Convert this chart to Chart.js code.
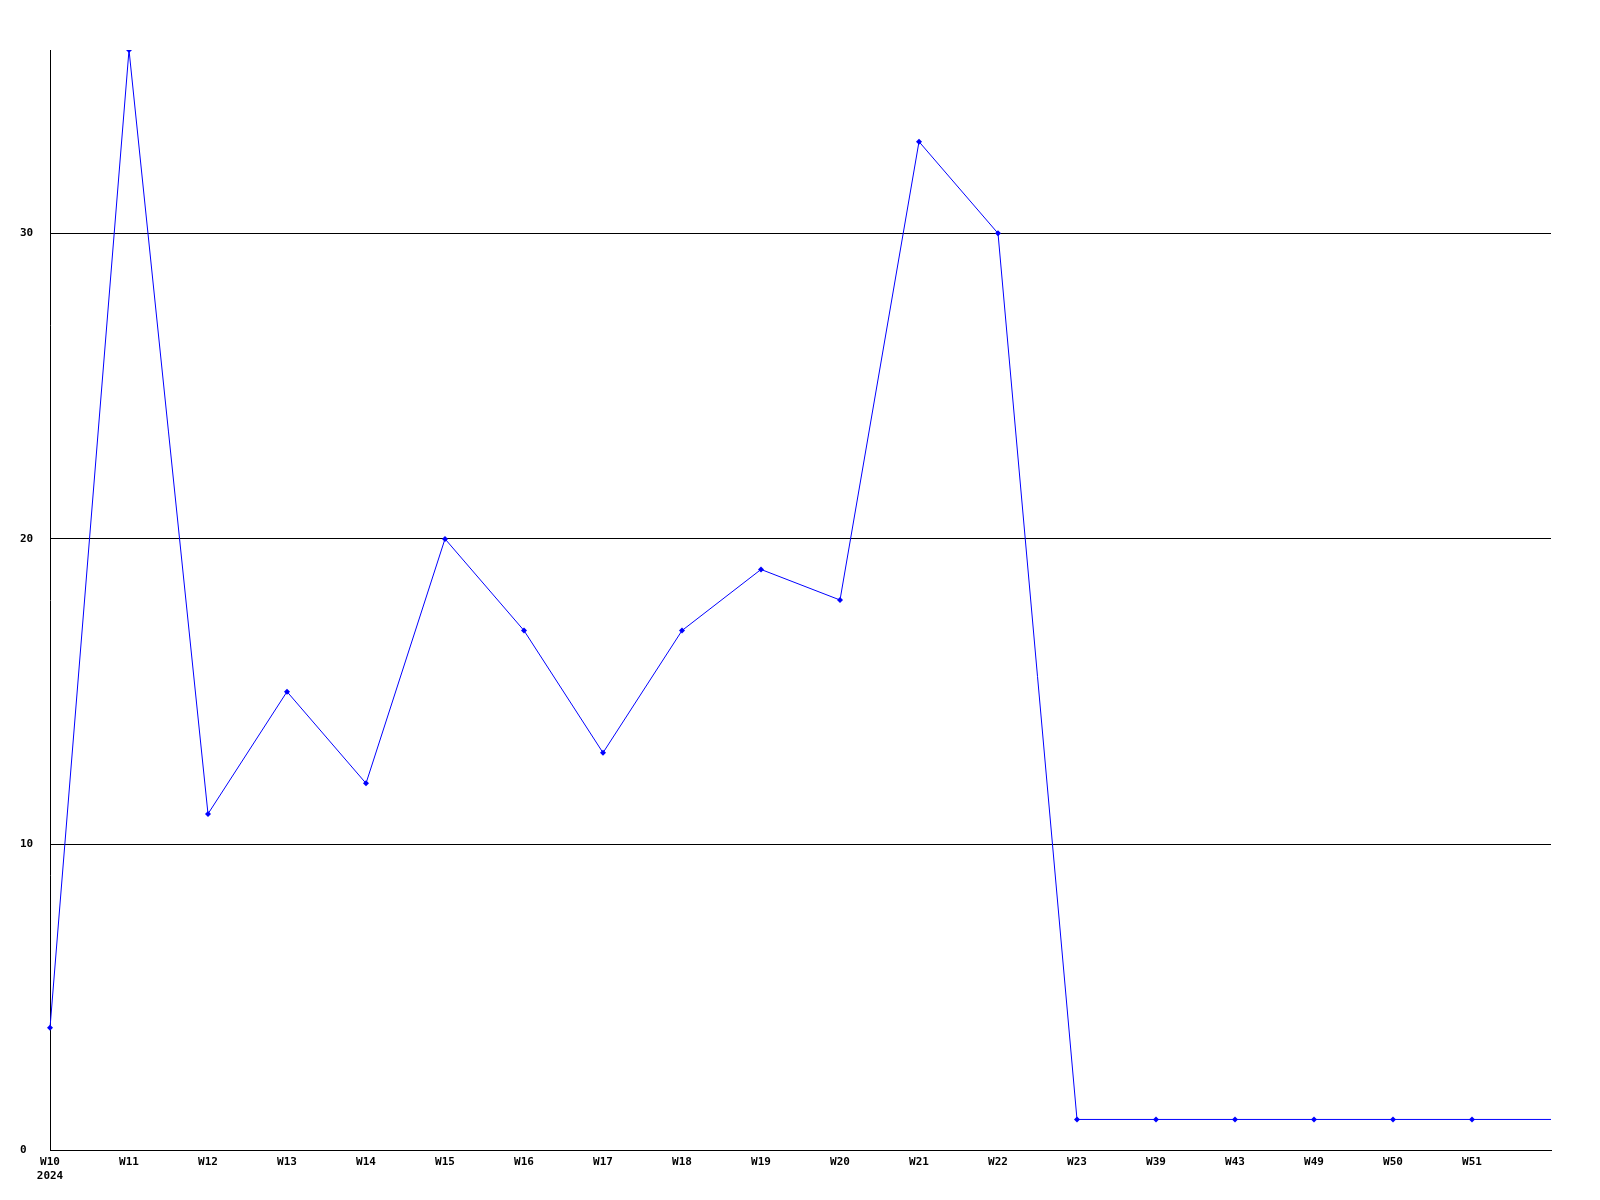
<!DOCTYPE html>
<html>
<head>
<meta charset="utf-8">
<style>
  body { margin: 0; background: #fff; }
</style>
<script src="https://cdn.jsdelivr.net/npm/chart.js@4.4.1/dist/chart.umd.min.js"></script>
</head>
<body>
<canvas id="weekChart" width="1600" height="1200"></canvas>
<script>
// week labels (last one is the open end of the line, no label)
const weeks = ['W10', 'W11', 'W12', 'W13', 'W14', 'W15', 'W16', 'W17', 'W18', 'W19',
               'W20', 'W21', 'W22', 'W23', 'W39', 'W43', 'W49', 'W50', 'W51', ''];
const yearLabel = '2024';

// counts per week
const counts = [4, 36, 11, 15, 12, 20, 17, 13, 17, 19,
                18, 33, 30, 1, 1, 1, 1, 1, 1, 1];

// y axis
const yMax = 36;
const yStep = 10;

const labels = weeks.map(function (w, i) {
    return i === 0 ? [w, yearLabel] : w;
});

const tickFont = { family: "'DejaVu Sans Mono', monospace", size: 11, weight: 'bold' };

var ctx = document.getElementById('weekChart');

var weekChart = new Chart(ctx, {
    type: 'line',
    data: {
        labels: labels,
        datasets: [{
            data: counts,
            borderColor: '#0000ff',
            backgroundColor: '#0000ff',
            borderWidth: 1,
            tension: 0,
            pointStyle: 'rectRot',
            pointRadius: counts.map(function (v, i) { return i === counts.length - 1 ? 0 : 3; }),
            pointBorderWidth: 0,
            pointBackgroundColor: '#0000ff'
        }]
    },
    options: {
        responsive: false,
        animation: false,
        layout: { padding: { top: 50, right: 49, left: 20, bottom: 0 } },
        plugins: {
            legend: { display: false },
            tooltip: { enabled: false }
        },
        scales: {
            x: {
                offset: false,
                grid: { display: false, drawTicks: false },
                border: { display: true, color: '#000', width: 1 },
                ticks: {
                    autoSkip: false,
                    maxRotation: 0,
                    minRotation: 0,
                    padding: 6,
                    color: '#000',
                    font: tickFont
                },
                afterFit: function (scale) { scale.height = 50; }
            },
            y: {
                min: 0,
                max: yMax,
                grid: {
                    color: '#000',
                    lineWidth: 1,
                    drawTicks: false
                },
                border: { display: true, color: '#000', width: 1 },
                ticks: {
                    stepSize: yStep,
                    includeBounds: false,
                    crossAlign: 'far',
                    padding: 17,
                    color: '#000',
                    font: tickFont
                },
                afterFit: function (scale) { scale.width = 30; }
            }
        }
    }
});
</script>
</body>
</html>
